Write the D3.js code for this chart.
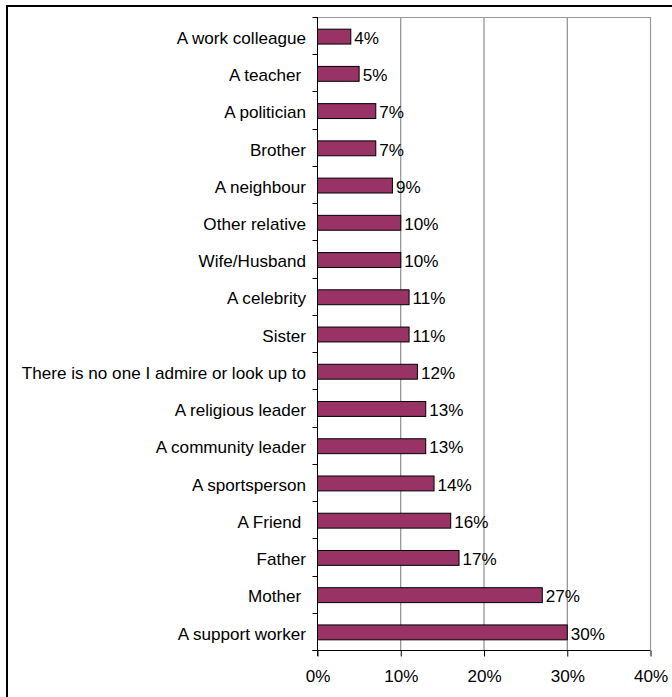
<!DOCTYPE html>
<html>
<head>
<meta charset="utf-8">
<script src="https://cdn.jsdelivr.net/npm/d3@7"></script>
<style>
  html, body { margin: 0; padding: 0; background: #fff; }
  svg text { font-family: Arial, "Liberation Sans", sans-serif; font-size: 16px; fill: #000; white-space: pre; }
</style>
</head>
<body>
<svg id="chart" width="672" height="697"></svg>
<script>
// Who people admire or look up to (share of respondents)
const categories = [
  "A work colleague", "A teacher ", "A politician", "Brother", "A neighbour",
  "Other relative", "Wife/Husband", "A celebrity", "Sister",
  "There is no one I admire or look up to", "A religious leader",
  "A community leader", "A sportsperson", "A Friend ", "Father", "Mother ",
  "A support worker"
];
const values = [0.04, 0.05, 0.07, 0.07, 0.09, 0.10, 0.10, 0.11, 0.11, 0.12, 0.13, 0.13, 0.14, 0.16, 0.17, 0.27, 0.30];
const xTicks = [0, 0.1, 0.2, 0.3, 0.4];

const svg = d3.select("#chart");
const plotLeft = 317, plotRight = 650, plotTop = 17, plotBottom = 650;
const stretch = 1.07; // slightly wide lettering

const x = d3.scaleLinear().domain([0, 0.4]).range([plotLeft, plotRight]);
const y = d3.scaleBand().domain(categories).range([plotTop, plotBottom]).paddingInner(0.6).paddingOuter(0.3);
const pct = d3.format(".0%");

// Outer chart frame
svg.append("rect")
  .attr("x", 7).attr("y", 6).attr("width", 720).attr("height", 740)
  .attr("fill", "none").attr("stroke", "#000").attr("stroke-width", 2);

// Vertical gridlines
svg.append("g").selectAll("line")
  .data(xTicks.slice(1, -1))
  .join("line")
  .attr("x1", d => x(d) + 0.5).attr("x2", d => x(d) + 0.5)
  .attr("y1", plotTop).attr("y2", plotBottom)
  .attr("stroke", "#777").attr("stroke-width", 1);

// Plot area top and right edges
svg.append("path")
  .attr("d", `M${plotLeft},${plotTop + 0.5}H${plotRight + 0.5}V${plotBottom}`)
  .attr("fill", "none").attr("stroke", "#999").attr("stroke-width", 1.2);

// Bars
svg.append("g").selectAll("rect")
  .data(categories)
  .join("rect")
  .attr("x", plotLeft + 0.5)
  .attr("y", d => y(d) + 1)
  .attr("width", (d, i) => x(values[i]) - plotLeft)
  .attr("height", y.bandwidth())
  .attr("fill", "#993366")
  .attr("stroke", "#000").attr("stroke-width", 1);

// Value labels
svg.append("g").selectAll("text")
  .data(categories)
  .join("text")
  .attr("transform", (d, i) => `translate(${x(values[i]) + 4},${y(d) + y.bandwidth() / 2 + 1}) scale(${stretch},1)`)
  .attr("dy", "0.45em")
  .text((d, i) => pct(values[i]));

// Category axis: spine plus ticks on band boundaries
const gy = svg.append("g").attr("transform", `translate(${plotLeft + 0.5},0)`);
gy.append("line").attr("y1", plotTop).attr("y2", plotBottom + 6).attr("stroke", "#000");
gy.selectAll("line.tick")
  .data(d3.range(categories.length + 1))
  .join("line")
  .attr("class", "tick")
  .attr("x1", -5).attr("x2", 0)
  .attr("y1", i => Math.round(plotTop + i * y.step()) + 0.5)
  .attr("y2", i => Math.round(plotTop + i * y.step()) + 0.5)
  .attr("stroke", "#000");

// Category labels
svg.append("g").selectAll("text")
  .data(categories)
  .join("text")
  .attr("transform", d => `translate(306,${y(d) + y.bandwidth() / 2 + 1}) scale(${stretch},1)`)
  .attr("dy", "0.45em")
  .attr("text-anchor", "end")
  .text(d => d);

// Value axis
const xAxis = d3.axisBottom(x).tickValues(xTicks).tickFormat(pct).tickSize(6).tickSizeOuter(0).tickPadding(14);
const gx = svg.append("g").attr("transform", `translate(0.5,${plotBottom + 0.5})`).call(xAxis);
gx.select(".domain").attr("stroke", "#000").attr("d", `M${plotLeft - 5},0H${plotRight}`);
gx.selectAll(".tick line").attr("stroke", "#000");
gx.selectAll(".tick text")
  .attr("font-size", null).attr("font-family", null).attr("fill", "#000")
  .attr("transform", `scale(${stretch},1)`)
  .attr("x", function() { return 0; });
</script>
</body>
</html>
